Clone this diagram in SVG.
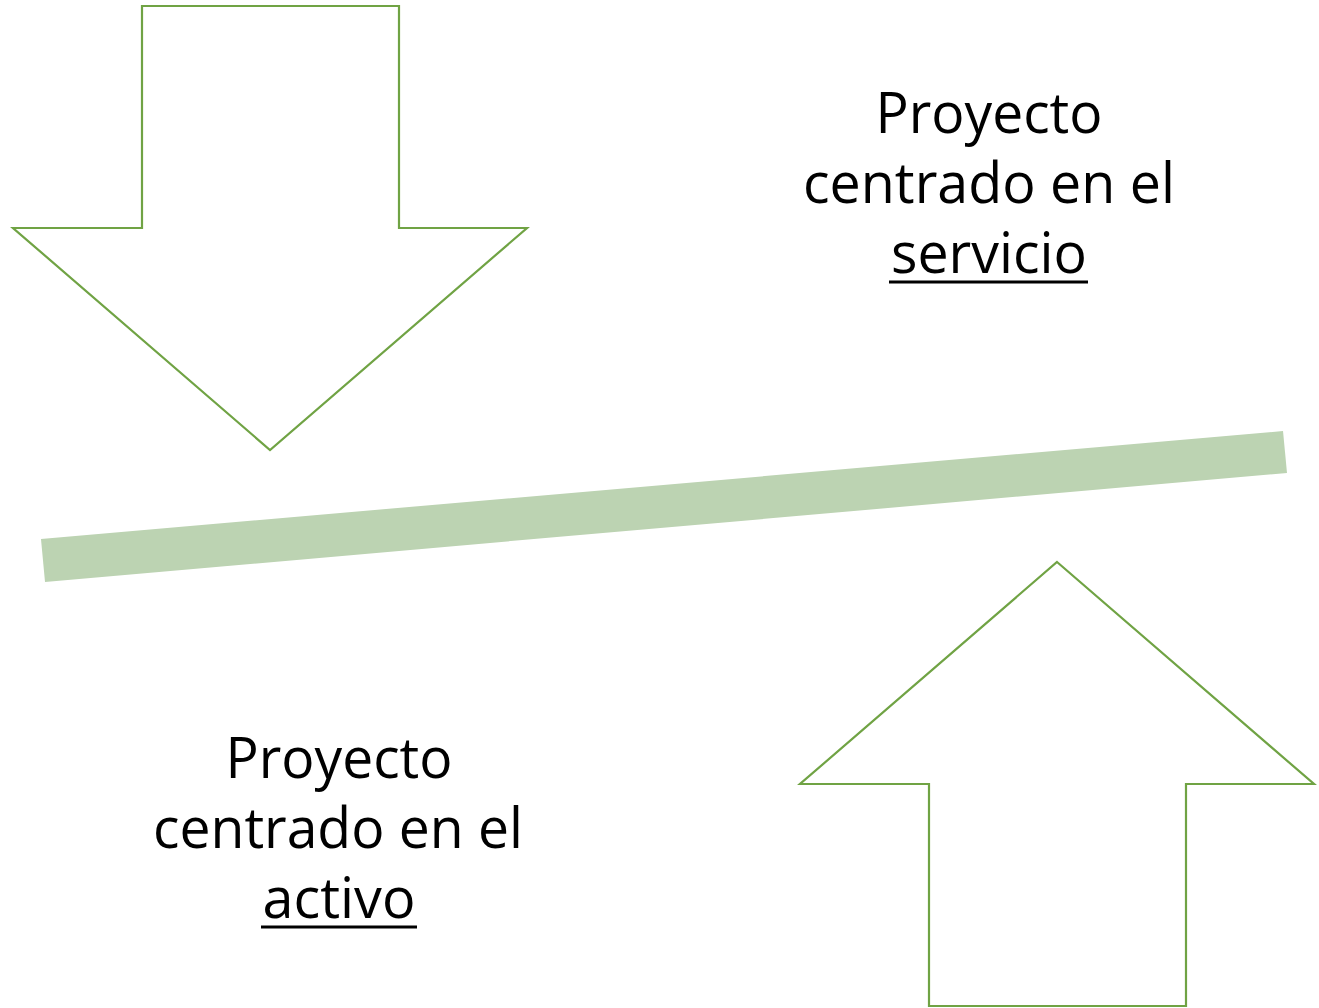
<svg xmlns="http://www.w3.org/2000/svg" width="1319" height="1008" viewBox="0 0 1319 1008">
<style>
.arrow{fill:#ffffff;stroke:#70a344;stroke-width:2.2;stroke-linejoin:miter}
.t{font-family:"Open Sans","Noto Sans",sans-serif;font-size:57px;fill:#000000;text-anchor:middle}
.ul{stroke:#000000;stroke-width:3}
</style>
<rect width="1319" height="1008" fill="#ffffff"/>
<g id="bar">
<polygon points="41,539 1283,431 1287,473 45,582" fill="#bcd3b2"/>
</g>
<g id="arrow-down">
<polygon class="arrow" points="142,6 399,6 399,228 527,228 270,450 13,228 142,228"/>
</g>
<g id="arrow-up">
<polygon class="arrow" points="1057,562 1314,784 1186,784 1186,1006 929,1006 929,784 800,784"/>
</g>
<g id="label-servicio">
<text class="t" x="989" y="133" textLength="227" lengthAdjust="spacingAndGlyphs">Proyecto</text>
<text class="t" x="989" y="203" textLength="372" lengthAdjust="spacingAndGlyphs">centrado en el</text>
<text class="t" x="989" y="273" textLength="196" lengthAdjust="spacingAndGlyphs">servicio</text>
<line class="ul" x1="889" y1="282" x2="1088" y2="282"/>
</g>
<g id="label-activo">
<text class="t" x="339" y="778" textLength="227" lengthAdjust="spacingAndGlyphs">Proyecto</text>
<text class="t" x="338" y="848" textLength="370" lengthAdjust="spacingAndGlyphs">centrado en el</text>
<text class="t" x="339" y="918" textLength="153" lengthAdjust="spacingAndGlyphs">activo</text>
<line class="ul" x1="261" y1="927" x2="417" y2="927"/>
</g>
</svg>
